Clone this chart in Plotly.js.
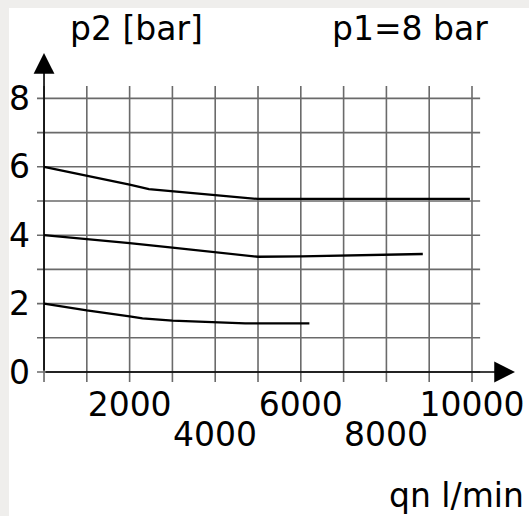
<!DOCTYPE html>
<html>
<head>
<meta charset="utf-8">
<script src="https://cdn.plot.ly/plotly-3.0.1.min.js"></script>
<style>
html, body { margin: 0; padding: 0; background: #efeeec; width: 529px; height: 516px; overflow: hidden; }
#chart { position: absolute; left: 9px; top: 8px; width: 520px; height: 508px; background: #fff; }
</style>
</head>
<body>
<div id="chart"></div>
<script>
// ---- data ----
const qnHigh = [0, 1000, 2000, 2450, 3000, 4000, 5000, 9950];
const p2High = [6.0, 5.75, 5.48, 5.35, 5.28, 5.17, 5.06, 5.06];

const qnMid = [0, 1000, 2000, 3000, 4000, 5000, 6000, 7000, 8000, 8850];
const p2Mid = [4.0, 3.89, 3.77, 3.64, 3.5, 3.37, 3.38, 3.4, 3.42, 3.45];

const qnLow = [0, 1000, 2000, 2300, 3000, 4000, 4700, 6200];
const p2Low = [2.0, 1.8, 1.63, 1.57, 1.5, 1.45, 1.42, 1.42];

const gridX = [0, 1000, 2000, 3000, 4000, 5000, 6000, 7000, 8000, 9000, 10000];
const gridY = [0, 1, 2, 3, 4, 5, 6, 7, 8];
const xTicksRow1 = [2000, 6000, 10000];
const xTicksRow2 = [4000, 8000];
const yTicks = [0, 2, 4, 6, 8];

const yAxisTitle = 'p2 [bar]';
const inletLabel = 'p1=8 bar';
const xAxisTitle = 'qn l/min';

// ---- styling ----
const FONT = 'DejaVu Sans, Verdana, sans-serif';
const FS = 33;
const xRange = [-164, 11028];
const yRange = [-0.292, 9.357];
const gridTop = 8.36, gridRight = 10190;
const arrowTipX = 11005, arrowTipY = 9.33;

const lineStyle = { color: '#000', width: 2.3 };
const traces = [
  { x: qnHigh, y: p2High, mode: 'lines', line: lineStyle, hoverinfo: 'skip', showlegend: false },
  { x: qnMid, y: p2Mid, mode: 'lines', line: lineStyle, hoverinfo: 'skip', showlegend: false },
  { x: qnLow, y: p2Low, mode: 'lines', line: lineStyle, hoverinfo: 'skip', showlegend: false }
];

const gridStyle = { color: '#6a6a6a', width: 1.6 };
const shapes = [];
gridX.forEach(v => shapes.push({ type: 'line', xref: 'x', yref: 'y', x0: v, x1: v, y0: yRange[0], y1: gridTop, line: gridStyle, layer: 'below' }));
gridY.forEach(v => shapes.push({ type: 'line', xref: 'x', yref: 'y', x0: xRange[0], x1: gridRight, y0: v, y1: v, line: gridStyle, layer: 'below' }));

const txtFont = { family: FONT, size: FS, color: '#000' };
const annotations = [
  // axis arrows
  { x: 0, y: arrowTipY, ax: 0, ay: 0, xref: 'x', yref: 'y', axref: 'x', ayref: 'y', text: '', showarrow: true,
    arrowhead: 2, arrowsize: 2.6, arrowwidth: 1.6, arrowcolor: '#000', standoff: 0 },
  { x: arrowTipX, y: 0, ax: 0, ay: 0, xref: 'x', yref: 'y', axref: 'x', ayref: 'y', text: '', showarrow: true,
    arrowhead: 2, arrowsize: 2.6, arrowwidth: 1.6, arrowcolor: '#000', standoff: 0 },
  { x: 0.207, y: 1.07, xref: 'paper', yref: 'paper', text: yAxisTitle, showarrow: false,
    xanchor: 'center', yanchor: 'middle', font: txtFont },
  { x: 0.779, y: 1.07, xref: 'paper', yref: 'paper', text: inletLabel, showarrow: false,
    xanchor: 'center', yanchor: 'middle', font: txtFont },
  { x: 1.02, y: -0.345, xref: 'paper', yref: 'paper', text: xAxisTitle, showarrow: false,
    xanchor: 'right', yanchor: 'middle', font: txtFont }
];
xTicksRow2.forEach(v => annotations.push({ x: v, y: -0.16, xref: 'x', yref: 'paper', text: String(v), showarrow: false,
  xanchor: 'center', yanchor: 'middle', font: txtFont }));

const layout = {
  width: 520, height: 508,
  margin: { l: 28, r: 13, t: 44, b: 134 },
  paper_bgcolor: '#ffffff', plot_bgcolor: '#ffffff',
  showlegend: false,
  font: txtFont,
  xaxis: { range: xRange, showgrid: false, zeroline: false, showline: false, ticks: '',
    tickmode: 'array', tickvals: xTicksRow1, ticktext: xTicksRow1.map(String),
    tickfont: txtFont, fixedrange: true },
  yaxis: { range: yRange, showgrid: false, zeroline: false, showline: false, ticks: '',
    tickmode: 'array', tickvals: yTicks, ticktext: yTicks.map(String), ticklabelstandoff: 6,
    tickfont: txtFont, fixedrange: true },
  shapes: shapes,
  annotations: annotations
};

Plotly.newPlot('chart', traces, layout, { staticPlot: true, displayModeBar: false });
</script>
</body>
</html>
